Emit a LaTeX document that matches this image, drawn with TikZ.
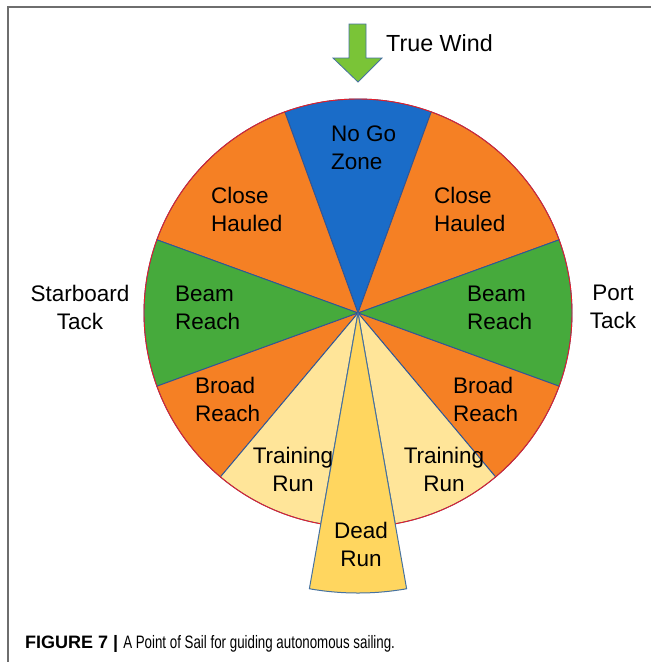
\documentclass[tikz,border=0pt]{standalone}
\usepackage{fontspec}
\setmainfont{Liberation Sans}
\definecolor{nogo}{RGB}{26,108,200}
\definecolor{hauled}{RGB}{245,128,36}
\definecolor{beam}{RGB}{70,170,60}
\definecolor{train}{RGB}{255,229,153}
\definecolor{dead}{RGB}{255,214,95}
\definecolor{edgeblue}{RGB}{47,85,151}
\definecolor{rimred}{RGB}{230,30,40}
\definecolor{windgreen}{RGB}{122,196,55}
\definecolor{windedge}{RGB}{70,114,160}
\definecolor{framegray}{RGB}{110,110,110}

\begin{document}
\begin{tikzpicture}[x=1pt, y=1pt,
  lbl/.style={font=\fontsize{22.5}{28}\selectfont, align=left, anchor=west, inner sep=0pt},
  clbl/.style={font=\fontsize{22.5}{28}\selectfont, align=center, inner sep=0pt},
  sector/.style={draw=edgeblue, line width=0.9pt}]

\useasboundingbox (0,0) rectangle (651,-662);
% marco de la figura
\draw [framegray, line width=1.5] (8,-662) -- (8,-7) -- (651,-7);

\coordinate (c) at (358,-313);
% sectores de la rosa
\foreach \a/\b/\col in {70/110/nogo, 20/70/hauled, 110/160/hauled, 160/200/beam, -20/20/beam,
                        200/230/hauled, -50/-20/hauled, 230/260/train, 280/310/train}
  \filldraw [sector, fill=\col] (c) -- ++(\a:214) arc [start angle=\a, end angle=\b, radius=214] -- cycle;
\draw [rimred, line width=0.9] (c) circle [radius=214];
% dead run sobresale
\filldraw [draw=windedge, line width=1, fill=dead] (c) -- ++(260:280) arc [start angle=260, end angle=280, radius=280] -- cycle;

% flecha del viento
\filldraw [fill=windgreen, draw=windedge, line width=0.8] (349,-24) -- (366,-24) -- (366,-58) -- (382,-58) -- (358,-82) -- (333,-58) -- (349,-58) -- cycle;
\node [lbl, font=\fontsize{23.3}{28}\selectfont] (wind) at (386,-43) {True Wind};

% etiquetas
\node [lbl] (nogo) at (331,-148) {No Go\\Zone};
\node [lbl] (chl) at (211,-209) {Close\\Hauled};
\node [lbl] (chr) at (434,-209) {Close\\Hauled};
\node [lbl] (brl) at (175,-308) {Beam\\Reach};
\node [lbl] (brr) at (467,-308) {Beam\\Reach};
\node [lbl] (bdl) at (195,-399) {Broad\\Reach};
\node [lbl] (bdr) at (453,-399) {Broad\\Reach};
\node [clbl] (trl) at (293,-469) {Training\\Run};
\node [clbl] (trr) at (444,-469) {Training\\Run};
\node [clbl] (dr) at (361,-544) {Dead\\Run};
\node [clbl] (stb) at (80,-307) {Starboard\\Tack};
\node [clbl] (port) at (613,-307) {Port\\Tack};

% pie de figura
\node [anchor=base west, inner sep=0pt, font=\fontsize{18}{20}\selectfont] (cap) at (25,-648)
  {\textbf{FIGURE 7 |} \scalebox{0.74}[1]{A Point of Sail for guiding autonomous sailing.}};
\end{tikzpicture}
\end{document}
